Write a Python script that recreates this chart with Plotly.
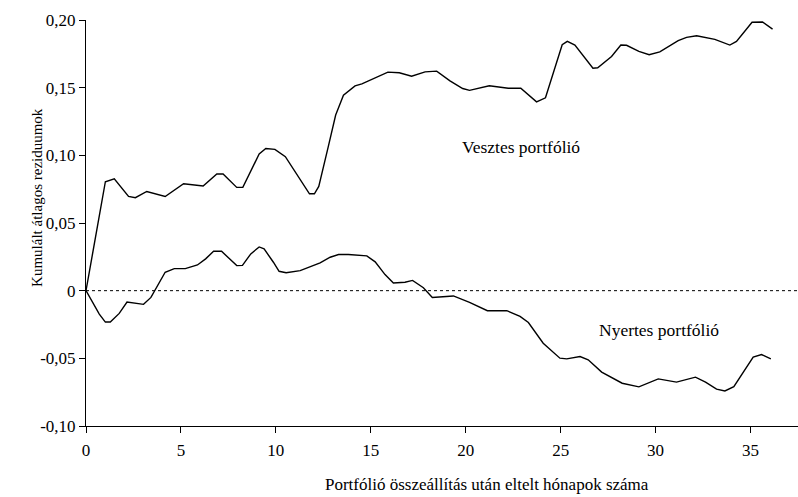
import plotly.graph_objects as go

# Vesztes (loser) portfolio: months after formation, cumulative average residuals
loser_x = [0, 1.02, 1.49, 2.24, 2.6, 3.2, 4.17, 5.14, 6.17, 6.89, 7.22, 7.94, 8.26,
           9.12, 9.47, 9.95, 10.5, 11.28, 11.77, 12.03, 12.26, 12.77, 13.15, 13.56,
           14.17, 14.53, 15.3, 15.9, 16.5, 17.15, 17.86, 18.47, 19.17, 19.84, 20.2,
           21.24, 22.24, 22.9, 23.73, 24.2, 25.08, 25.35, 25.75, 26.7, 26.95, 27.68,
           28.17, 28.47, 29.12, 29.66, 30.22, 31.19, 31.63, 32.16, 33.12, 33.91,
           34.26, 35.08, 35.63, 36.16]
loser_y = [0, 0.0805, 0.0827, 0.0696, 0.0687, 0.0733, 0.0696, 0.079, 0.0773, 0.0862,
           0.0862, 0.0763, 0.0763, 0.101, 0.105, 0.1044, 0.099, 0.0827, 0.0716, 0.0716,
           0.077, 0.107, 0.1298, 0.1444, 0.1513, 0.1528, 0.158, 0.1615, 0.161, 0.1585,
           0.1617, 0.1622, 0.155, 0.1494, 0.148, 0.1514, 0.1496, 0.1496, 0.1395,
           0.1425, 0.1817, 0.1842, 0.1815, 0.1644, 0.1647, 0.173, 0.1815, 0.1813,
           0.1768, 0.1743, 0.1765, 0.1847, 0.1872, 0.1884, 0.1857, 0.1815, 0.1842,
           0.1983, 0.1985, 0.1933]

# Nyertes (winner) portfolio
winner_x = [0, 0.7, 1.02, 1.28, 1.75, 2.16, 3.03, 3.42, 4.17, 4.65, 5.23, 5.87, 6.3,
            6.72, 7.14, 7.94, 8.24, 8.68, 9.12, 9.38, 9.87, 10.17, 10.54, 11.28,
            12.33, 12.86, 13.3, 13.82, 14.79, 15.23, 15.75, 16.19, 16.8, 17.2, 17.77,
            18.24, 19.35, 20.2, 21.14, 22.16, 22.86, 23.3, 24.08, 24.96, 25.32, 26.02,
            26.45, 27.16, 28.24, 29.12, 30.14, 31.1, 32.1, 32.63, 33.21, 33.65, 34.12,
            35.14, 35.58, 36.07]
winner_y = [0, -0.0173, -0.0232, -0.0232, -0.0168, -0.0084, -0.0101, -0.005, 0.0136,
            0.0163, 0.0163, 0.019, 0.0235, 0.0291, 0.0291, 0.0185, 0.0187, 0.0272,
            0.0323, 0.0309, 0.021, 0.0143, 0.0133, 0.0148, 0.0205, 0.0247, 0.0267,
            0.0267, 0.0257, 0.0213, 0.0119, 0.0057, 0.0062, 0.0076, 0.0022, -0.005,
            -0.0039, -0.0087, -0.0148, -0.0148, -0.019, -0.0235, -0.0388, -0.0499,
            -0.0504, -0.0487, -0.0511, -0.0602, -0.0684, -0.0711, -0.0652, -0.0676,
            -0.0639, -0.0676, -0.0728, -0.0741, -0.0709, -0.0491, -0.0472, -0.0504]

x_ticks = [0, 5, 10, 15, 20, 25, 30, 35]
y_ticks = [-0.10, -0.05, 0, 0.05, 0.10, 0.15, 0.20]
y_tick_labels = ["-0,10", "-0,05", "0", "0,05", "0,10", "0,15", "0,20"]

FONT = "Liberation Serif"

fig = go.Figure()
fig.add_trace(go.Scatter(x=loser_x, y=loser_y, mode="lines",
                         line=dict(color="black", width=1.4), name="Vesztes portfólió"))
fig.add_trace(go.Scatter(x=winner_x, y=winner_y, mode="lines",
                         line=dict(color="black", width=1.4), name="Nyertes portfólió"))

fig.add_shape(type="line", xref="paper", yref="y", x0=0, x1=1, y0=0, y1=0,
              line=dict(color="black", width=1, dash="dot"))

fig.add_annotation(x=22.9, y=0.106, text="Vesztes portfólió", showarrow=False,
                   font=dict(family=FONT, size=17.5, color="black"))
fig.add_annotation(x=30.2, y=-0.029, text="Nyertes portfólió", showarrow=False,
                   font=dict(family=FONT, size=17.5, color="black"))
fig.add_annotation(xref="paper", yref="paper", x=-0.083, y=0.564,
                   text="Kumulált átlagos reziduumok", textangle=-90, showarrow=False,
                   font=dict(family=FONT, size=15, color="black"))
fig.add_annotation(xref="paper", yref="paper", x=0.563, y=-0.145,
                   text="Portfólió összeállítás után eltelt hónapok száma", showarrow=False,
                   xanchor="center", yanchor="middle",
                   font=dict(family=FONT, size=17, color="black"))

fig.update_layout(
    width=798, height=497,
    margin=dict(l=86, r=0, t=20, b=71),
    paper_bgcolor="white", plot_bgcolor="white",
    showlegend=False,
    font=dict(family=FONT, size=17, color="black"),
    xaxis=dict(range=[0, 37.5], tickvals=x_ticks, ticks="outside", ticklen=6,
               tickcolor="black", showline=True, linecolor="black", linewidth=1,
               showgrid=False, zeroline=False, ticklabelstandoff=3,
               tickfont=dict(family=FONT, size=17)),
    yaxis=dict(range=[-0.10, 0.20], tickvals=y_ticks, ticktext=y_tick_labels,
               ticks="outside", ticklen=6, tickcolor="black", showline=True,
               linecolor="black", linewidth=1, showgrid=False, zeroline=False,
               tickfont=dict(family=FONT, size=17)),
)

fig.write_html("out.html", config={"displayModeBar": False},
               post_script="document.body.style.margin='0px';")
